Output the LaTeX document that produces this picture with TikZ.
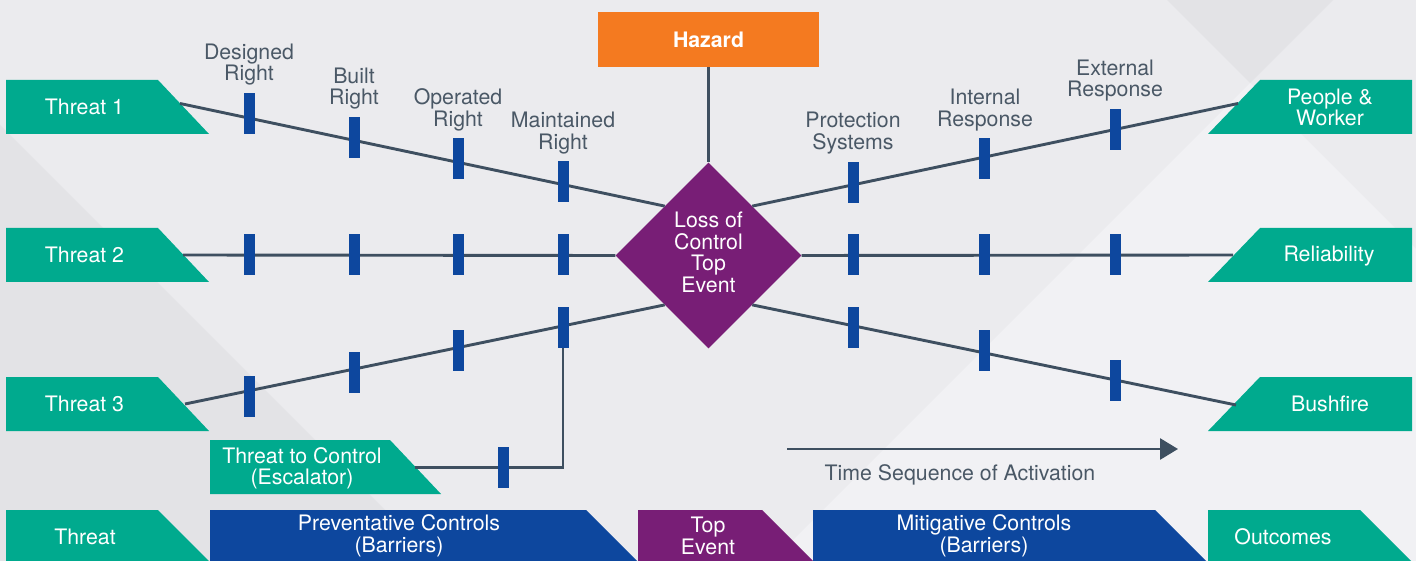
\documentclass[tikz,border=0pt]{standalone}
\usepackage{fontspec}
\setmainfont{TeX Gyre Heros}
\usetikzlibrary{shapes.geometric,arrows.meta,calc}
\definecolor{bgc}{HTML}{EBEBEE}
\definecolor{bgdark}{HTML}{E3E3E6}
\definecolor{bglight}{HTML}{F1F1F4}
\definecolor{tealc}{HTML}{00AA8E}
\definecolor{barblue}{HTML}{0D479E}
\definecolor{purplec}{HTML}{781E76}
\definecolor{orangec}{HTML}{F47A20}
\definecolor{linec}{HTML}{3E4F60}
\definecolor{labelc}{HTML}{4A5866}
\begin{document}
\begin{tikzpicture}[x=1pt,y=-1pt,
  font=\fontsize{21.3}{21.5}\selectfont,
  conn/.style={draw=linec, line width=2.9pt},
  barrier/.style={fill=barblue, minimum width=11pt, minimum height=41pt, inner sep=0pt, outer sep=0pt},
  lbl/.style={text=labelc, align=center, inner sep=0pt},
  wtxt/.style={text=white, align=center, inner sep=0pt},
  tealbox/.style={fill=tealc},
  bluebox/.style={fill=barblue},
  purplebox/.style={fill=purplec}]
\clip (0,0) rectangle (1416,561);
% background
\fill[bgc] (0,0) rectangle (1416,561);
\fill[bgdark] (0,125) -- (436,561) -- (0,561) -- cycle;
\fill[bgdark] (1167,0) -- (1333,0) -- (1250,83) -- cycle;
\fill[bglight] (1250,83) -- (1416,249) -- (1416,561) -- (772,561) -- cycle;

% hazard and top event
\node[fill=orangec, minimum width=221pt, minimum height=55pt, inner sep=0pt, text=white, font=\fontsize{21.3}{21.5}\selectfont\bfseries] (hazard) at (708.5,39.5) {Hazard};
\node[diamond, fill=purplec, minimum width=186pt, minimum height=186pt, inner sep=0pt, aspect=1] (top) at (708.5,255.5) {};
\node[wtxt] (toptxt) at (708.5,252.5) {Loss of\\Control\\Top\\Event};

% threat boxes (left)
\fill[tealbox] (6,80) -- (158,80) -- (209,134) -- (6,134) -- cycle;
\fill[tealbox] (6,228) -- (158,228) -- (209,282) -- (6,282) -- cycle;
\fill[tealbox] (6,377) -- (158,377) -- (209,431) -- (6,431) -- cycle;
\fill[tealbox] (210,440) -- (390,440) -- (441,494) -- (210,494) -- cycle;
\node[wtxt] (t1) at (84.5,107) {Threat 1};
\node[wtxt] (t2) at (84.5,255) {Threat 2};
\node[wtxt] (t3) at (84.5,404) {Threat 3};
\node[wtxt] (esc) at (302,468.5) {Threat to Control\\(Escalator)};
\coordinate (t1e) at (180,103.5);
\coordinate (t2e) at (183,255);
\coordinate (t3e) at (185,404);
\coordinate (esce) at (415,467.5);

% outcome boxes (right)
\fill[tealbox] (1260,80) -- (1412,80) -- (1412,134) -- (1208,134) -- cycle;
\fill[tealbox] (1260,228) -- (1412,228) -- (1412,282) -- (1208,282) -- cycle;
\fill[tealbox] (1260,377) -- (1412,377) -- (1412,431) -- (1208,431) -- cycle;
\node[wtxt] (o1) at (1330,107.5) {People \&\\Worker};
\node[wtxt] (o2) at (1329,256) {Reliability};
\node[wtxt] (o3) at (1330,404) {Bushfire};
\coordinate (o1e) at (1238,103.5);
\coordinate (o2e) at (1233,255);
\coordinate (o3e) at (1236,405);

% diamond contact points
\coordinate (dul) at ($(top.west)!0.53!(top.north)$);
\coordinate (dll) at ($(top.west)!0.53!(top.south)$);
\coordinate (dur) at ($(top.east)!0.53!(top.north)$);
\coordinate (dlr) at ($(top.east)!0.53!(top.south)$);
\coordinate (escc) at (563,467.5);

% connectors
\draw[conn] (hazard.south) -- (top.north);
\draw[conn] (t1e) -- (dul);
\draw[conn] (t2e) -- (top.west);
\draw[conn] (t3e) -- (dll);
\draw[conn] (dur) -- (o1e);
\draw[conn] (top.east) -- (o2e);
\draw[conn] (dlr) -- (o3e);

% barriers left
\foreach \x/\y [count=\i] in {249/113.5, 354/137.5, 458/159, 563/182}
  \node[barrier] (ba\i) at (\x,\y) {};
\foreach \x [count=\i] in {249,354,458,563}
  \node[barrier] (bb\i) at (\x,255) {};
\foreach \x/\y [count=\i] in {249/396, 354/372, 458/350.5, 563/327.5}
  \node[barrier] (bc\i) at (\x,\y) {};
% barriers right
\foreach \x/\y [count=\i] in {853/182.5, 984/159, 1115/129.5}
  \node[barrier] (ra\i) at (\x,\y) {};
\foreach \x [count=\i] in {853,984,1115}
  \node[barrier] (rb\i) at (\x,255) {};
\foreach \x/\y [count=\i] in {853/327.5, 984/350.5, 1115/380}
  \node[barrier] (rc\i) at (\x,\y) {};

% escalator path
\draw[conn, line join=miter] (esce) -- (escc) -- (bc4.south);
\node[barrier] (be) at (503,467.5) {};

% barrier labels
\node[lbl] (l1) at (249,64.5) {Designed\\Right};
\node[lbl] (l2) at (354,88.5) {Built\\Right};
\node[lbl] (l3) at (458,110) {Operated\\Right};
\node[lbl] (l4) at (563,133) {Maintained\\Right};
\node[lbl] (l5) at (853,133) {Protection\\Systems};
\node[lbl] (l6) at (985,110) {Internal\\Response};
\node[lbl] (l7) at (1115,80.5) {External\\Response};

% time arrow
\coordinate (ts) at (787,449);
\coordinate (te) at (1178,449);
\draw[conn, -{Triangle[length=18pt,width=21pt]}] (ts) -- (te);
\node[lbl] (tl) at (960,474.5) {Time Sequence of Activation};

% bottom legend
\fill[tealbox] (6,510) -- (158,510) -- (209,561) -- (6,561) -- cycle;
\fill[bluebox] (210,510) -- (586,510) -- (637,561) -- (210,561) -- cycle;
\fill[purplebox] (638,510) -- (762,510) -- (813,561) -- (638,561) -- cycle;
\fill[bluebox] (813,510) -- (1155,510) -- (1206,561) -- (813,561) -- cycle;
\fill[tealbox] (1208,510) -- (1360,510) -- (1411,561) -- (1208,561) -- cycle;
\node[wtxt] (lg1) at (85,536.5) {Threat};
\node[wtxt] (lg2) at (399,536) {Preventative Controls\\(Barriers)};
\node[wtxt] (lg3) at (708,536) {Top\\Event};
\node[wtxt] (lg4) at (984,536) {Mitigative Controls\\(Barriers)};
\node[wtxt] (lg5) at (1283,536.5) {Outcomes};
\end{tikzpicture}
\end{document}
